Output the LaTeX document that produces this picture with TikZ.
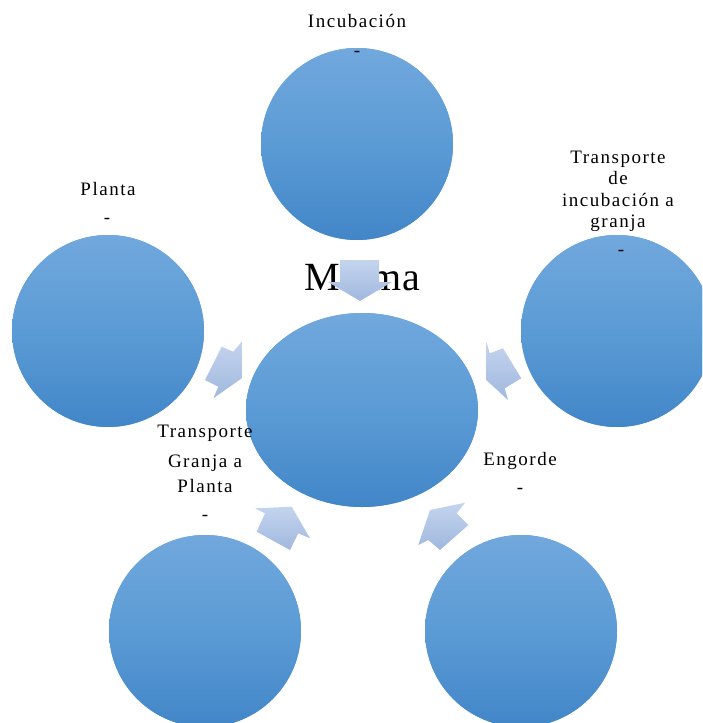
\documentclass[tikz,border=0pt]{standalone}
\usepackage{fontspec}
\setmainfont{Liberation Serif}
\newfontfamily\labfont[LetterSpace=8]{Liberation Serif}
\usetikzlibrary{shapes.geometric}
\definecolor{circTop}{RGB}{113,168,221}
\definecolor{circMid}{RGB}{91,155,213}
\definecolor{circBot}{RGB}{66,134,200}
\definecolor{arrTop}{RGB}{196,212,238}
\definecolor{arrBot}{RGB}{160,184,222}
\tikzset{
  stage/.style={circle, minimum size=192pt, inner sep=0pt, fill=circMid,
    top color=circTop, bottom color=circBot, middle color=circMid, draw=none},
  hub/.style={ellipse, minimum width=232pt, minimum height=194pt, inner sep=0pt, fill=circMid,
    top color=circTop, bottom color=circBot, middle color=circMid, draw=none},
  lab/.style={font=\labfont\fontsize{19}{22}\selectfont, inner sep=0pt, anchor=base},
  dashmark/.style={font=\labfont\fontsize{19}{22}\selectfont, inner sep=0pt},
  blockarrow/.style={top color=arrTop, bottom color=arrBot, draw=none}
}
\begin{document}
\begin{tikzpicture}[x=1pt,y=-1pt]
\useasboundingbox (0,0) rectangle (702,723);
\clip (0,0) rectangle (702,723);

% stages around the hub
\node[stage] (inc) at (357,144) {};
\node[stage] (pla) at (108,331) {};
\node[stage] (tig) at (617,331) {};
\node[stage] (tgp) at (205,631) {};
\node[stage] (eng) at (521,631) {};
\node[hub]   (mer) at (362,410) {};

% hub title
\node[font=\fontsize{40}{44}\selectfont, inner sep=0pt, anchor=base] (mert) at (362,290) {Merma};

% stage labels
\node[lab] (incl) at (357,27) {Incubación};
\node[dashmark] (incd) at (357,54) {-};

\node[lab] (plal) at (108,195) {Planta};
\node[dashmark] (plad) at (107,221) {-};

\node[lab] (tigl1) at (618,163) {Transporte};
\node[lab] (tigl2) at (618,184.5) {de};
\node[lab] (tigl3) at (618,206) {incubación a};
\node[lab] (tigl4) at (618,227.5) {granja};
\node[dashmark] (tigd) at (621,253) {-};

\node[lab] (tgpl1) at (205,437) {Transporte};
\node[lab] (tgpl2) at (205,467) {Granja a};
\node[lab] (tgpl3) at (205,492) {Planta};
\node[dashmark] (tgpd) at (205,518) {-};

\node[lab] (engl) at (520,465) {Engorde};
\node[dashmark] (engd) at (520,491) {-};

% block arrows feeding the hub
\path[blockarrow] (340,260) -- (379,260) -- (379,282) -- (392,282) -- (360,301)
  -- (328,282) -- (340,282) -- cycle;
\path[blockarrow] (221.7,346.7) -- (233.3,351.7) -- (241.7,341.7) -- (241.7,378.3)
  -- (213.3,398.3) -- (218.3,386.7) -- (205,380) -- cycle;
\path[blockarrow] (486.3,341.7) -- (489.7,353.3) -- (503,348.3) -- (521.3,378.3)
  -- (504.7,388.3) -- (508,400) -- (486.3,380) -- cycle;
\path[blockarrow] (255,508.3) -- (265,513.3) -- (256.7,531.7) -- (290,550)
  -- (298.3,533.3) -- (310,538.3) -- (291.7,506.7) -- cycle;
\path[blockarrow] (430,510) -- (465,502.7) -- (456.7,513.3) -- (468.3,525)
  -- (440,550) -- (428.3,540) -- (418.3,545) -- cycle;
\end{tikzpicture}
\end{document}
